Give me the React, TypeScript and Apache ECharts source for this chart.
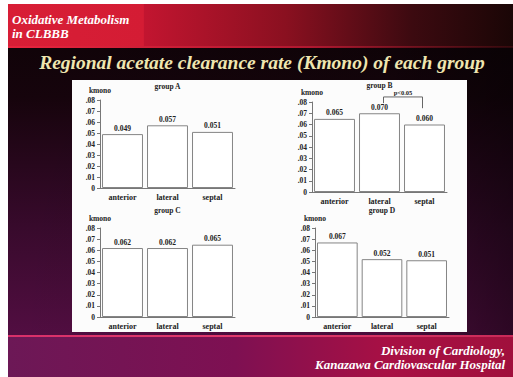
import React, { useEffect, useRef } from 'react';
import * as echarts from 'echarts';

const categories = ['anterior', 'lateral', 'septal'];
const groupA = [0.049, 0.057, 0.051];
const groupB = [0.065, 0.07, 0.06];
const groupC = [0.062, 0.062, 0.065];
const groupD = [0.067, 0.052, 0.051];
const groupValues = [groupA, groupB, groupC, groupD];
const groupTitles = ['group A', 'group B', 'group C', 'group D'];
const yTickLabels = ['0', '.01', '.02', '.03', '.04', '.05', '.06', '.07', '.08'];
const yAxisName = 'kmono';
const pValueText = 'p<0.05';
const headerLines = ['Oxidative Metabolism', 'in CLBBB'];
const mainTitle = 'Regional acetate clearance rate (Kmono) of each group';
const footerLines = ['Division of Cardiology,', 'Kanazawa Cardiovascular Hospital'];

const SERIF = '"Liberation Serif", "DejaVu Serif", serif';

const grids = [
  { left: 100, top: 100, width: 135, height: 88, titleY: 86 },
  { left: 312, top: 102, width: 135, height: 90, titleY: 85 },
  { left: 100, top: 228, width: 135, height: 89, titleY: 210 },
  { left: 315, top: 228, width: 134, height: 89, titleY: 210 },
];

const lin = (x: number, y: number, x2: number, y2: number, stops: [number, string][]) =>
  new echarts.graphic.LinearGradient(x, y, x2, y2, stops.map(([offset, color]) => ({ offset, color })));

function buildBackground(): any[] {
  const shadow = { shadowColor: 'rgba(0,0,0,0.6)', shadowBlur: 1, shadowOffsetX: 1, shadowOffsetY: 1 };
  return [
    { type: 'rect', z: 0, shape: { x: 8, y: 4, width: 505, height: 373 },
      style: { fill: lin(0, 0, 0, 1, [[0, '#0c0306'], [0.25, '#16040c'], [0.6, '#380a2c'], [1, '#5c0f4a']]) } },
    { type: 'rect', z: 0, shape: { x: 8, y: 4, width: 505, height: 373 },
      style: { fill: lin(0, 0, 1, 0, [[0, 'rgba(0,0,0,0)'], [0.75, 'rgba(0,0,0,0.1)'], [1, 'rgba(0,0,0,0.45)']]) } },
    { type: 'rect', z: 0, shape: { x: 8, y: 4, width: 505, height: 43 },
      style: { fill: lin(0, 0, 1, 0, [[0, '#d81e36'], [0.268, '#d41c34'], [0.27, '#c21530'], [0.55, '#8a1020'], [0.8, '#3c0a10'], [1, '#1a0606']]) } },
    { type: 'rect', z: 0, shape: { x: 8, y: 46, width: 505, height: 2 },
      style: { fill: lin(0, 0, 1, 0, [[0, '#e8243e'], [0.6, '#b01830'], [1, 'rgba(120,20,30,0.3)']]) } },
    { type: 'rect', z: 0, shape: { x: 8, y: 337, width: 505, height: 40 },
      style: { fill: lin(0, 0, 1, 0, [[0, '#6c1856'], [0.45, '#7e1052'], [0.75, '#a81044'], [1, '#a0103c']]) } },
    { type: 'rect', z: 0, shape: { x: 8, y: 335, width: 505, height: 2 },
      style: { fill: lin(0, 0, 1, 0, [[0, '#d8306a'], [0.5, '#e23a6c'], [1, '#c82a58']]) } },
    { type: 'rect', z: 0, shape: { x: 72, y: 80, width: 395, height: 252 },
      style: { fill: '#fcfcfc' } },
    ...headerLines.map((t, i) => ({
      type: 'text', z: 10, x: 12, y: 19 + i * 14,
      style: { text: t, fill: '#ffffff', font: `italic bold 13px ${SERIF}`, textVerticalAlign: 'middle', ...shadow },
    })),
    { type: 'text', z: 10, x: 262, y: 62,
      style: { text: mainTitle, fill: '#efe6b0', font: `italic bold 19.5px ${SERIF}`, textAlign: 'center', textVerticalAlign: 'middle', ...shadow } },
    ...footerLines.map((t, i) => ({
      type: 'text', z: 10, x: 505, y: 350 + i * 14,
      style: { text: t, fill: '#ffffff', font: `italic bold 13px ${SERIF}`, textAlign: 'right', textVerticalAlign: 'middle', ...shadow },
    })),
    ...grids.map((g, i) => ({
      type: 'text', z: 10, x: g.left + g.width / 2, y: g.titleY,
      style: { text: groupTitles[i], fill: '#222', font: `bold 7.5px ${SERIF}`, textAlign: 'center', textVerticalAlign: 'middle' },
    })),
  ];
}

export default function App() {
  const ref = useRef<HTMLDivElement>(null);
  useEffect(() => {
    if (!ref.current) return;
    const chart = echarts.init(ref.current, null, { renderer: 'svg' });
    const axisColor = '#777';
    const option: any = {
      animation: false,
      backgroundColor: '#ffffff',
      grid: grids.map((g) => ({ left: g.left, top: g.top, width: g.width, height: g.height, containLabel: false })),
      xAxis: grids.map((_, i) => ({
        type: 'category', gridIndex: i, data: categories, z: 3,
        axisLine: { lineStyle: { color: axisColor, width: 1 } },
        axisTick: { show: false },
        axisLabel: { color: '#222', fontFamily: SERIF, fontWeight: 'bold', fontSize: 8, margin: 5 },
      })),
      yAxis: grids.map((_, i) => ({
        type: 'value', gridIndex: i, min: 0, max: 0.08, interval: 0.01, z: 3,
        name: yAxisName, nameLocation: 'end', nameGap: 6,
        nameTextStyle: { color: '#222', fontFamily: SERIF, fontWeight: 'bold', fontSize: 7.5, align: 'center' },
        axisLine: { show: true, lineStyle: { color: axisColor, width: 1 } },
        axisTick: { show: true, length: 3, lineStyle: { color: axisColor } },
        splitLine: { show: false },
        axisLabel: {
          color: '#222', fontFamily: SERIF, fontWeight: 'bold', fontSize: 7.5, margin: 5,
          formatter: (v: number) => yTickLabels[Math.round(v * 100)] ?? '',
        },
      })),
      series: groupValues.map((vals, i) => ({
        type: 'bar', xAxisIndex: i, yAxisIndex: i, data: vals, z: 4,
        barCategoryGap: '9%',
        itemStyle: { color: '#ffffff', borderColor: '#858585', borderWidth: 1 },
        label: {
          show: true, position: 'top', distance: 2, color: '#222', fontFamily: SERIF, fontWeight: 'bold', fontSize: 7.5,
          formatter: (p: any) => Number(p.value).toFixed(3),
        },
      })),
      graphic: buildBackground(),
    };
    chart.setOption(option);

    // significance bracket between lateral and septal in group B
    const c = { xAxisIndex: 1, yAxisIndex: 1 } as any;
    const pL = chart.convertToPixel(c, [1, 0.079]) as number[];
    const pTopL = chart.convertToPixel(c, [1, 0.0845]) as number[];
    const pTopR = chart.convertToPixel(c, [2, 0.0845]) as number[];
    const pR = chart.convertToPixel(c, [2, 0.0745]) as number[];
    const dx = 4;
    const bracket = [
      { type: 'polyline', z: 10,
        shape: { points: [[pL[0] + dx, pL[1]], [pTopL[0] + dx, pTopL[1]], [pTopR[0] - 2, pTopR[1]], [pR[0] - 2, pR[1]]] },
        style: { stroke: '#666', lineWidth: 1, fill: 'none' } },
      { type: 'text', z: 10, x: (pTopL[0] + pTopR[0]) / 2 + 1, y: pTopL[1] - 4,
        style: { text: pValueText, fill: '#222', font: `bold 6.5px ${SERIF}`, textAlign: 'center', textVerticalAlign: 'middle' } },
    ];
    chart.setOption({ graphic: [...buildBackground(), ...bracket] });
    return () => chart.dispose();
  }, []);
  return <div ref={ref} style={{ position: 'fixed', left: 0, top: 0, width: 513, height: 377 }} />;
}
